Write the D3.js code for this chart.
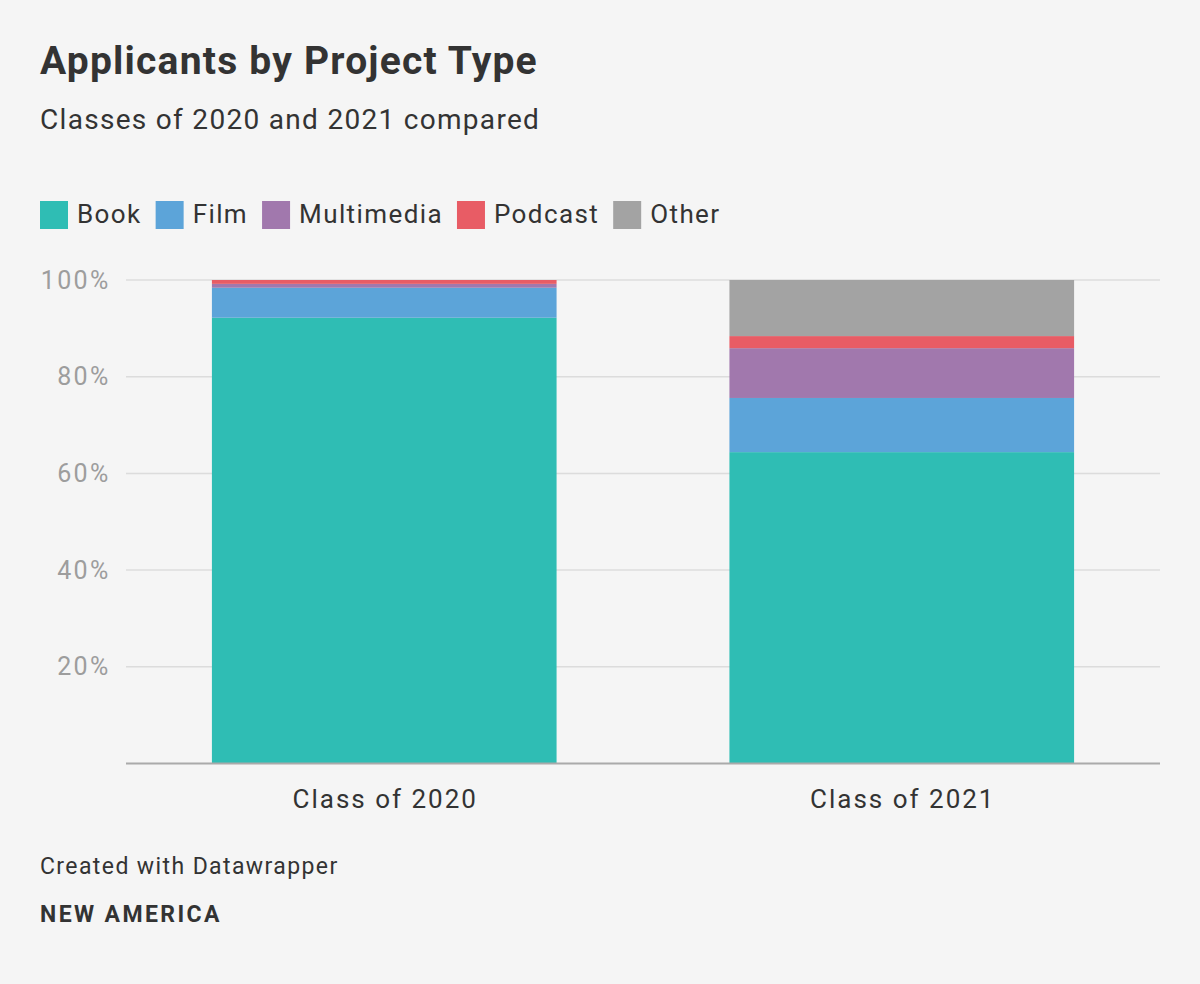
<!DOCTYPE html>
<html>
<head>
<meta charset="utf-8">
<script src="https://cdn.jsdelivr.net/npm/d3@7"></script>
<style>
  body { margin: 0; background: #f5f5f5; }
  text { font-family: Roboto, "Noto Sans", sans-serif; }
</style>
</head>
<body>
<div class="chart"></div>
<script>
// data
const classes = ["Class of 2020", "Class of 2021"];
const types = ["Book", "Film", "Multimedia", "Podcast", "Other"];
const book = [92.2, 64.4];
const film = [6.2, 11.2];
const multimedia = [0.8, 10.3];
const podcast = [0.8, 2.5];
const other = [0, 11.6];
const yTicks = [20, 40, 60, 80, 100];
const colors = ["#2fbdb4", "#5ca4d9", "#a178ad", "#e85c65", "#a3a3a3"];

const W = 1200, H = 984;
const margin = { top: 280, right: 40, bottom: 220.5, left: 126 };

const svg = d3.select(".chart").append("svg")
  .attr("width", W).attr("height", H);

svg.append("rect").attr("width", W).attr("height", H).attr("fill", "#f5f5f5");

// titles
svg.append("text").attr("x", 40).attr("y", 74)
  .attr("font-size", 39).attr("font-weight", 700).attr("fill", "#333")
  .attr("letter-spacing", 1.2)
  .text("Applicants by Project Type");
svg.append("text").attr("x", 40).attr("y", 129)
  .attr("font-size", 28).attr("fill", "#333")
  .attr("letter-spacing", 1.3)
  .text("Classes of 2020 and 2021 compared");

// legend
let lx = 40;
types.forEach((t, i) => {
  const g = svg.append("g").attr("transform", "translate(" + lx + ",201)");
  g.append("rect").attr("width", 28).attr("height", 28).attr("fill", colors[i]);
  const txt = g.append("text").attr("x", 37).attr("y", 21.5)
    .attr("font-size", 26).attr("fill", "#333")
    .attr("letter-spacing", 1.4).text(t);
  lx += 37 + txt.node().getComputedTextLength() + 14;
});

const width = W - margin.left - margin.right;
const height = H - margin.top - margin.bottom;

const x = d3.scaleBand().domain(classes).range([0, width])
  .paddingInner(0.334).paddingOuter(0.166);
const y = d3.scaleLinear().domain([0, 100]).range([height, 0]);

const g = svg.append("g")
  .attr("transform", "translate(" + margin.left + "," + margin.top + ")");

// grid
g.append("g").selectAll("line").data(yTicks).enter().append("line")
  .attr("x1", 0).attr("x2", width)
  .attr("y1", d => y(d)).attr("y2", d => y(d))
  .attr("stroke", "#dcdcdc").attr("stroke-width", 1.5);

g.append("g").selectAll("text").data(yTicks).enter().append("text")
  .attr("x", -15.5).attr("y", d => y(d) + 8.5)
  .attr("text-anchor", "end").attr("font-size", 25).attr("fill", "#9d9d9d")
  .attr("letter-spacing", 2.3)
  .text(d => d + "%");

// stacked bars
const rows = classes.map((c, i) => ({
  cls: c, Book: book[i], Film: film[i], Multimedia: multimedia[i],
  Podcast: podcast[i], Other: other[i]
}));
const stacked = d3.stack().keys(types)(rows);

g.append("g").selectAll("g").data(stacked).enter().append("g")
  .attr("fill", (d, i) => colors[i])
  .selectAll("rect").data(d => d).enter().append("rect")
  .attr("x", d => x(d.data.cls))
  .attr("width", x.bandwidth())
  .attr("y", d => y(d[1]))
  .attr("height", d => y(d[0]) - y(d[1]));

// baseline
g.append("line").attr("x1", 0).attr("x2", width)
  .attr("y1", height).attr("y2", height)
  .attr("stroke", "#aaa").attr("stroke-width", 2);

// x labels
g.append("g").selectAll("text").data(classes).enter().append("text")
  .attr("x", d => x(d) + x.bandwidth() / 2 + 1).attr("y", height + 44.5)
  .attr("text-anchor", "middle").attr("font-size", 26).attr("fill", "#333")
  .attr("letter-spacing", 2)
  .text(d => d);

// footer
svg.append("text").attr("x", 40).attr("y", 874)
  .attr("font-size", 23).attr("fill", "#333").attr("letter-spacing", 1.4)
  .text("Created with Datawrapper");
svg.append("text").attr("x", 40).attr("y", 922)
  .attr("font-size", 23).attr("font-weight", 700).attr("fill", "#333")
  .attr("letter-spacing", 2.4)
  .text("NEW AMERICA");
</script>
</body>
</html>
